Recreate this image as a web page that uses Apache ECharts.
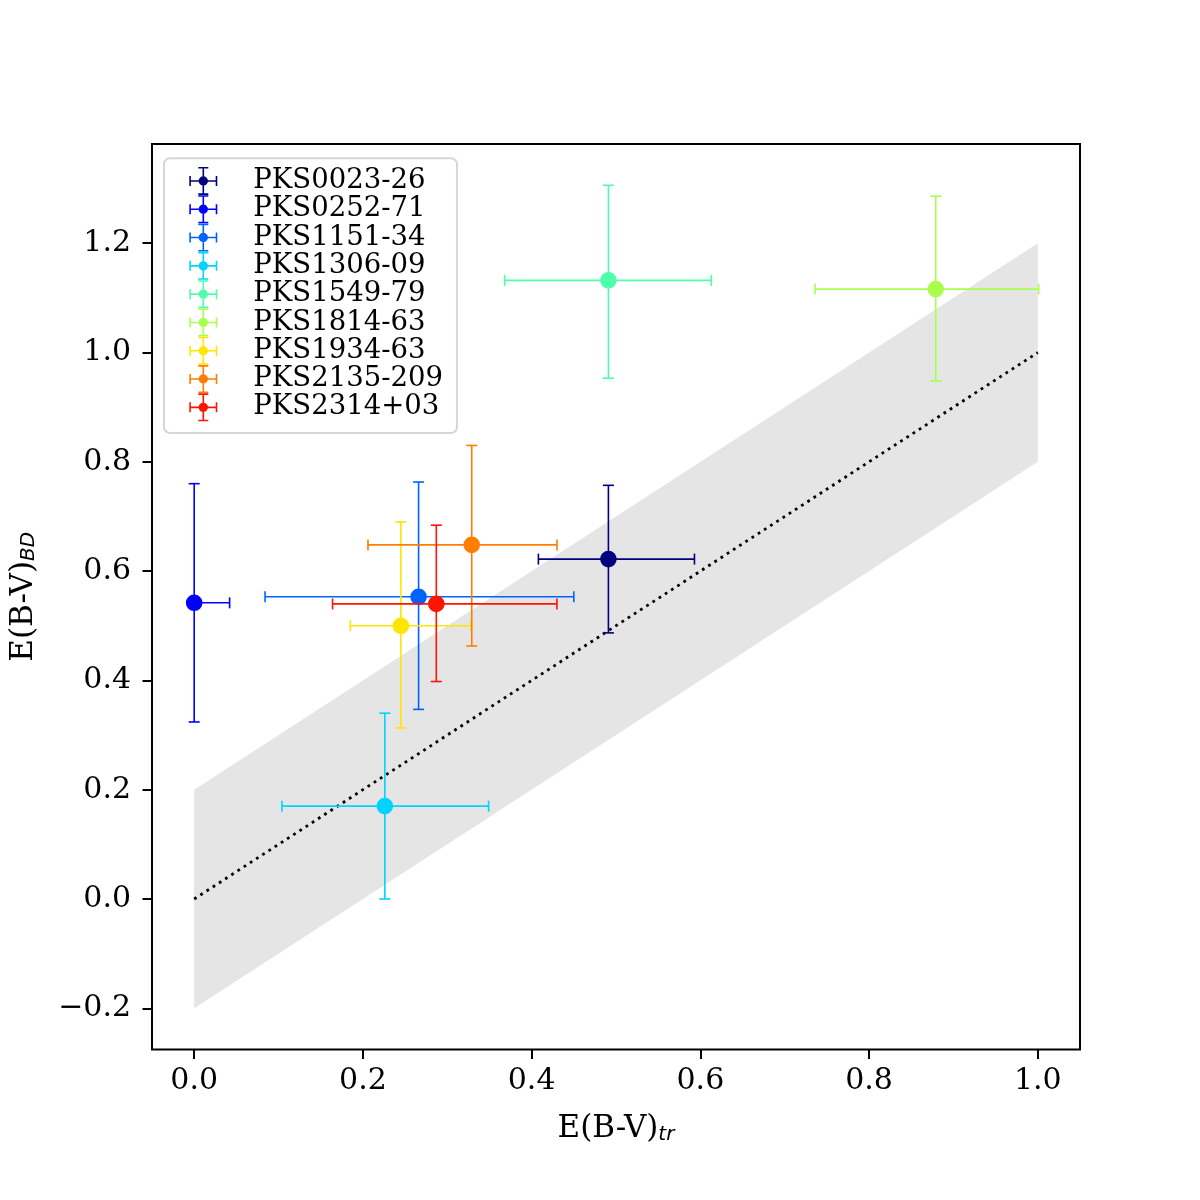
<!DOCTYPE html>
<html>
<head>
<meta charset="utf-8">
<script src="https://cdn.jsdelivr.net/npm/echarts@6/dist/echarts.min.js"></script>
<style>html,body{margin:0;padding:0;background:#fff}#c{width:1200px;height:1200px}</style>
</head>
<body>
<div id="c"></div>
<script>
// ---- data ----
const names = ['PKS0023-26','PKS0252-71','PKS1151-34','PKS1306-09','PKS1549-79','PKS1814-63','PKS1934-63','PKS2135-209','PKS2314+03'];
const xVals  = [0.491, 0.000, 0.266, 0.226, 0.491, 0.879, 0.245, 0.329, 0.287];
const yVals  = [0.622, 0.542, 0.553, 0.170, 1.132, 1.116, 0.500, 0.648, 0.540];
const xErrLo = [0.083, 0.000, 0.182, 0.122, 0.123, 0.143, 0.060, 0.123, 0.123];
const xErrHi = [0.102, 0.042, 0.184, 0.123, 0.122, 0.122, 0.083, 0.101, 0.143];
const yErrLo = [0.135, 0.218, 0.206, 0.170, 0.179, 0.168, 0.187, 0.185, 0.142];
const yErrHi = [0.135, 0.218, 0.210, 0.170, 0.174, 0.170, 0.190, 0.182, 0.144];
const colors = ['#00007f','#0000ff','#0063ff','#00d4ff','#4effaa','#aaff4d','#ffe500','#ff7d00','#ff1400'];
// shaded band and 1:1 line
const bandX = [0, 1];
const bandLower = [-0.2, 0.8];
const bandUpper = [0.2, 1.2];
const lineX = [0, 1];
const lineY = [0, 1];
// ticks
const xTicks = [0, 0.2, 0.4, 0.6, 0.8, 1.0];
const yTicks = [-0.2, 0, 0.2, 0.4, 0.6, 0.8, 1.0, 1.2];

const SERIF = 'DejaVu Serif';
const fmt = v => (v < 0 ? '\u2212' : '') + Math.abs(v).toFixed(1);

// legend glyph: errorbar cross with caps and a dot (frame 28x28)
function rect(x0, y0, x1, y1) { return `M${x0} ${y0}L${x1} ${y0}L${x1} ${y1}L${x0} ${y1}Z`; }
const t = 0.8;
const glyph = 'path://' +
  rect(0, 14 - t, 28, 14 + t) +
  rect(0, 9, 2 * t, 19) + rect(28 - 2 * t, 9, 28, 19) +
  rect(14 - t, 0, 14 + t, 28) +
  rect(9, 0, 19, 2 * t) + rect(9, 28 - 2 * t, 19, 28) +
  'M18.7 14A4.7 4.7 0 1 1 9.3 14A4.7 4.7 0 1 1 18.7 14Z';

const LW = 1.6, CAP = 5.5, R = 8.3;
function renderSource(params, api) {
  const x = api.value(0), y = api.value(1);
  const xl = api.value(2), xh = api.value(3), yl = api.value(4), yh = api.value(5);
  const c = api.coord([x, y]);
  const a = api.coord([x - xl, y]), b = api.coord([x + xh, y]);
  const d = api.coord([x, y - yl]), u = api.coord([x, y + yh]);
  const color = api.visual('color');
  const st = { stroke: color, lineWidth: LW, fill: null };
  const L = (x1, y1, x2, y2) => ({ type: 'line', shape: { x1, y1, x2, y2 }, style: st });
  return {
    type: 'group',
    children: [
      L(a[0], c[1], b[0], c[1]),
      L(c[0], d[1], c[0], u[1]),
      L(a[0], c[1] - CAP, a[0], c[1] + CAP),
      L(b[0], c[1] - CAP, b[0], c[1] + CAP),
      L(c[0] - CAP, d[1], c[0] + CAP, d[1]),
      L(c[0] - CAP, u[1], c[0] + CAP, u[1]),
      { type: 'circle', shape: { cx: c[0], cy: c[1], r: R }, style: { fill: color, stroke: null } }
    ]
  };
}

const series = [];
series.push({
  type: 'custom',
  silent: true,
  z: 1,
  data: [[0]],
  renderItem: function (params, api) {
    const pts = [];
    for (let i = 0; i < bandX.length; i++) pts.push(api.coord([bandX[i], bandLower[i]]));
    for (let i = bandX.length - 1; i >= 0; i--) pts.push(api.coord([bandX[i], bandUpper[i]]));
    return { type: 'polygon', shape: { points: pts }, style: { fill: '#e5e5e5', stroke: null } };
  }
});
series.push({
  type: 'line',
  silent: true,
  z: 2,
  data: lineX.map((x, i) => [x, lineY[i]]),
  symbol: 'none',
  lineStyle: { color: '#000', width: 2.78, type: [2.78, 4.6], cap: 'butt' }
});
names.forEach((n, i) => {
  series.push({
    type: 'custom',
    name: n,
    z: 3 + i,
    itemStyle: { color: colors[i] },
    data: [[xVals[i], yVals[i], xErrLo[i], xErrHi[i], yErrLo[i], yErrHi[i]]],
    renderItem: renderSource
  });
});

const axisName = {
  m: { fontFamily: SERIF, fontSize: 31, color: '#000' },
  s: { fontFamily: 'DejaVu Sans', fontStyle: 'italic', fontSize: 20, color: '#000', padding: [11, 0, 0, 0] }
};

const chart = echarts.init(document.getElementById('c'), null, { renderer: 'canvas' });
chart.setOption({
  animation: false,
  backgroundColor: '#fff',
  grid: { left: 149.3, top: 144, width: 930.7, height: 905.5, show: true, borderColor: '#000', borderWidth: 2, backgroundColor: 'transparent' },
  xAxis: {
    type: 'value', min: -0.05, max: 1.05,
    name: '{m|E(B-V)}{s|tr}', nameLocation: 'middle', nameGap: 64,
    nameTextStyle: { rich: axisName },
    axisLine: { show: false, onZero: false },
    splitLine: { show: false },
    axisTick: { show: true, customValues: xTicks, length: 9.5, inside: false, lineStyle: { color: '#000', width: 2 } },
    axisLabel: { customValues: xTicks, formatter: fmt, fontFamily: SERIF, fontSize: 30, color: '#000', margin: 17 }
  },
  yAxis: {
    type: 'value', min: -0.2753, max: 1.3815,
    name: '{m|E(B-V)}{s|BD}', nameLocation: 'middle', nameGap: 113, nameRotate: 90,
    nameTextStyle: { rich: axisName },
    axisLine: { show: false, onZero: false },
    splitLine: { show: false },
    axisTick: { show: true, customValues: yTicks, length: 9.5, inside: false, lineStyle: { color: '#000', width: 2 } },
    axisLabel: { customValues: yTicks, formatter: fmt, fontFamily: SERIF, fontSize: 30, color: '#000', margin: 21 }
  },
  legend: {
    orient: 'vertical',
    left: 164, top: 158.3,
    padding: [8.5, 14, 11.5, 25.3],
    itemGap: 0,
    itemWidth: 28, itemHeight: 28.3,
    selectedMode: false,
    backgroundColor: 'rgba(255,255,255,0.8)',
    borderColor: '#d6d6d6', borderWidth: 2, borderRadius: 6,
    itemStyle: { borderWidth: 0 },
    textStyle: { fontFamily: SERIF, fontSize: 27.5, color: '#000', lineHeight: 28.3, padding: [0, 0, 0, 31] },
    data: names.map(n => ({ name: n, icon: glyph }))
  },
  series: series
});
</script>
</body>
</html>
